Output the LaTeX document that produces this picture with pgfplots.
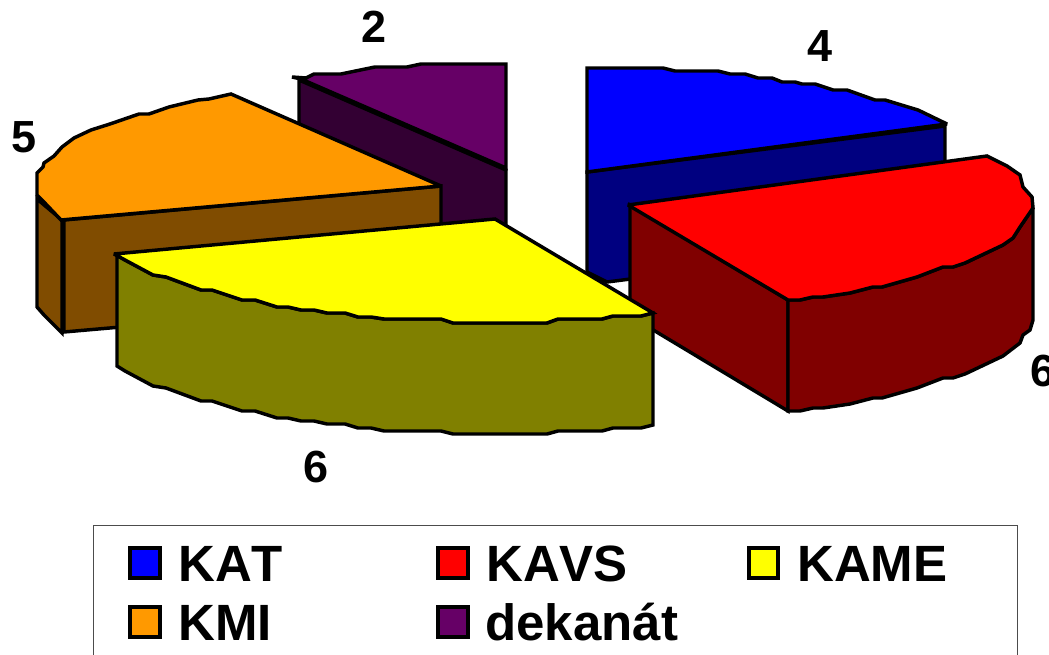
\documentclass[border=0pt]{standalone}
\usepackage{pgfplots}
\pgfplotsset{compat=1.18}
\usepackage{fontspec}
\setmainfont[Kerning=Off]{Liberation Sans}
\definecolor{cBlue}{HTML}{0000FF}\definecolor{dBlue}{HTML}{000080}
\definecolor{cRed}{HTML}{FF0000}\definecolor{dRed}{HTML}{800000}
\definecolor{cYel}{HTML}{FFFF00}\definecolor{dYel}{HTML}{808000}
\definecolor{cOra}{HTML}{FF9900}\definecolor{dOra}{HTML}{804C00}
\definecolor{cPur}{HTML}{660066}\definecolor{dPur}{HTML}{330033}
\tikzset{
  num/.style={font=\fontsize{33.75}{36}\selectfont\bfseries,inner sep=0pt,anchor=center,text=black},
  leg/.style={font=\fontsize{38.25}{40}\selectfont\bfseries,inner sep=0pt,anchor=base west,text=black}}
\begin{document}
\begin{tikzpicture}
\path[use as bounding box] (0,0) rectangle (786.75pt,491.25pt);
\begin{axis}[at={(0,0)},anchor=south west,scale only axis,width=786.75pt,height=491.25pt,
  xmin=0,xmax=1049,ymin=0,ymax=655,y dir=reverse,hide axis,clip=false,
  every axis plot/.append style={black,line width=2.6pt,mark=none,line join=miter,miter limit=3}]
% dekanat
\addplot[fill=dPur] coordinates {(299,80)(506,170)(506,280)(299,190)} -- cycle;
\addplot[fill=cPur] coordinates {(292,77)(306,78)(314,74)(341,74)(375,67)(407,67)(421,64)(506,64)(506,168)(301,79)} -- cycle;
% KAT
\addplot[fill=dBlue] coordinates {(587,172)(945,126)(945,239)(607,282)(587,272)} -- cycle;
\addplot[fill=cBlue] coordinates {(587,68)(663,68)(675,71)(718,71)(730,74)(745,74)(758,78)(772,78)(782,82)(795,82)(802,84)(815,84)(833,90)(847,90)(875,100)(885,100)(908,107)(918,110)(947,124)(587,172)} -- cycle;
% KMI
\addplot[fill=dOra] coordinates {(37,199)(62,220)(62,333)(44,315)(37,307)} -- cycle;
\addplot[fill=dOra] coordinates {(64,220)(441,186)(441,299)(64,332)} -- cycle;
\addplot[fill=cOra] coordinates {(231,94)(209,99)(198,100)(169,107)(149,114)(139,114)(110,124)(91,130)(74,138)(62,147)(54,156)(44,163)(43,167)(37,173)(37,195)(42,200)(61,220)(441,186)} -- cycle;
% KAVS
\addplot[fill=dRed] coordinates {(630,205)(788,300)(788,411)(630,316)} -- cycle;
\addplot[fill=dRed] coordinates {(1033,208)(1020,227)(1013,238)(1003,245)(965,263)(953,267)(943,267)(917,277)(882,287)(873,287)(850,293)(823,297)(813,297)(800,300)(788,300)(788,411)(800,411)(813,408)(823,408)(850,404)(873,398)(882,398)(917,388)(943,378)(953,378)(965,374)(1003,356)(1020,343)(1023,335)(1030,330)(1033,320)} -- cycle;
\addplot[fill=cRed] coordinates {(628,205)(987,156)(1007,166)(1020,175)(1023,187)(1032,197)(1033,208)(1020,227)(1013,238)(1003,245)(965,263)(953,267)(943,267)(917,277)(882,287)(873,287)(850,293)(823,297)(813,297)(800,300)(788,300)} -- cycle;
% KAME
\addplot[fill=dYel] coordinates {(117,255)(125,260)(153,275)(166,277)(201,290)(212,290)(242,300)(255,300)(277,307)(288,307)(301,310)(314,310)(327,313)(345,313)(358,317)(371,317)(384,319)(441,319)(453,323)(547,323)(558,319)(602,319)(613,316)(641,316)(653,313)(653,425)(641,428)(613,428)(602,431)(558,431)(547,434)(453,434)(441,431)(384,431)(371,428)(358,428)(345,424)(327,424)(314,421)(301,421)(288,418)(277,418)(255,411)(242,411)(212,401)(201,401)(166,388)(153,386)(125,371)(117,366)} -- cycle;
\addplot[fill=cYel] coordinates {(114,254)(495,219)(653,313)(641,316)(613,316)(602,319)(558,319)(547,323)(453,323)(441,319)(384,319)(371,317)(358,317)(345,313)(327,313)(314,310)(301,310)(288,307)(277,307)(255,300)(242,300)(212,290)(201,290)(166,277)(153,275)(125,260)} -- cycle;
% value labels
\node[num] at (axis cs:374,27) {2};
\node[num] at (axis cs:820,46) {4};
\node[num] at (axis cs:24,137) {5};
\node[num] at (axis cs:316,467) {6};
\node[num] at (axis cs:1043,371) {6};
% legend frame
\addplot[draw=black!70,line width=0.75pt] coordinates {(93,655)(93,525)(1017,525)(1017,655)};
% legend keys
\addplot[fill=cBlue] coordinates {(130,548)(160,548)(160,578)(130,578)} -- cycle;
\addplot[fill=cRed] coordinates {(438,548)(468,548)(468,578)(438,578)} -- cycle;
\addplot[fill=cYel] coordinates {(749,548)(778,548)(778,578)(749,578)} -- cycle;
\addplot[fill=cOra] coordinates {(130,607)(160,607)(160,637)(130,637)} -- cycle;
\addplot[fill=cPur] coordinates {(438,607)(468,607)(468,637)(438,637)} -- cycle;
\node[leg] at (axis cs:178,581) {KAT};
\node[leg] at (axis cs:486,581) {KAVS};
\node[leg] at (axis cs:797,581) {KAME};
\node[leg] at (axis cs:178,640) {KMI};
\node[leg] at (axis cs:485,640) {dekanát};
\end{axis}
\end{tikzpicture}
\end{document}
